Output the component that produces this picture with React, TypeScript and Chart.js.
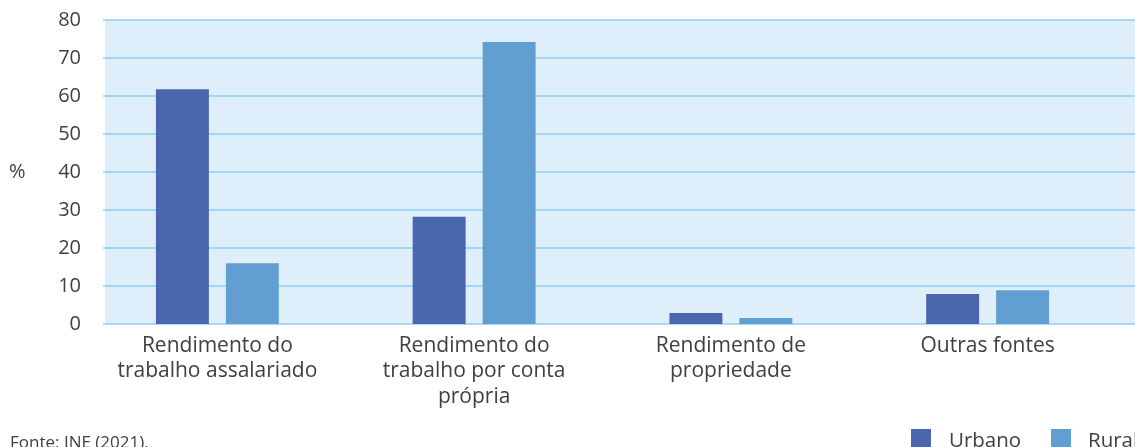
import React, { useEffect, useRef } from "react";
import { Chart, registerables } from "chart.js";

Chart.register(...registerables);

const categories: (string | string[])[] = [
  ["Rendimento do", "trabalho assalariado"],
  ["Rendimento do", "trabalho por conta", "própria"],
  ["Rendimento de", "propriedade"],
  "Outras fontes",
];
const urbanoValues = [61.8, 28.2, 2.9, 7.9];
const ruralValues = [16.0, 74.2, 1.6, 8.9];
const seriesLabels = ["Urbano", "Rural"];
const yTickMin = 0;
const yTickMax = 80;
const yTickStep = 10;
const yAxisLabel = "%";
const sourceNote = "Fonte: INE (2021).";

const COLORS = ["#4966ae", "#619ed2"];
const TEXT = "#404040";
const FONT = "'Open Sans', 'Noto Sans', sans-serif";

export default function App() {
  const ref = useRef<HTMLCanvasElement | null>(null);

  useEffect(() => {
    const canvas = ref.current;
    if (!canvas) return;

    const decor = {
      id: "decor",
      beforeDatasetsDraw(chart: any) {
        const { ctx, chartArea, scales } = chart;
        const y = scales.y;
        const bgLeft = 105;
        const right = chart.width;
        ctx.save();
        ctx.fillStyle = "#deeffb";
        ctx.fillRect(bgLeft, chartArea.top, right - bgLeft, chartArea.bottom - chartArea.top);
        ctx.strokeStyle = "#8dcff3";
        ctx.lineWidth = 1.6;
        y.ticks.forEach((t: any) => {
          const py = y.getPixelForValue(t.value);
          ctx.beginPath();
          ctx.moveTo(103, py);
          ctx.lineTo(right, py);
          ctx.stroke();
        });
        ctx.restore();
      },
      afterDraw(chart: any) {
        const { ctx, scales } = chart;
        const y = scales.y;
        ctx.save();
        ctx.fillStyle = TEXT;
        ctx.font = `20px ${FONT}`;
        ctx.textBaseline = "middle";
        ctx.textAlign = "left";
        ctx.fillText(yAxisLabel, 9, y.getPixelForValue(40));

        ctx.font = `17px ${FONT}`;
        ctx.textBaseline = "alphabetic";
        ctx.fillText(sourceNote, 10, 448);

        // legend
        ctx.font = `20.5px ${FONT}`;
        const items = [
          { x: 911, tx: 949 },
          { x: 1051, tx: 1088 },
        ];
        chart.data.datasets.forEach((ds: any, i: number) => {
          const it = items[i];
          ctx.fillStyle = ds.backgroundColor;
          ctx.fillRect(it.x, 429, 20, 20);
          ctx.fillStyle = TEXT;
          ctx.fillText(ds.label, it.tx, 447);
        });
        ctx.restore();
      },
    };

    const chart = new Chart(canvas, {
      type: "bar",
      data: {
        labels: categories,
        datasets: [
          {
            label: seriesLabels[0],
            data: urbanoValues,
            backgroundColor: COLORS[0],
            categoryPercentage: 0.545,
            barPercentage: 0.757,
          },
          {
            label: seriesLabels[1],
            data: ruralValues,
            backgroundColor: COLORS[1],
            categoryPercentage: 0.545,
            barPercentage: 0.757,
          },
        ],
      },
      options: {
        responsive: false,
        animation: false,
        devicePixelRatio: 1,
        layout: { padding: { top: 20, right: 19, left: 0, bottom: 0 } },
        plugins: {
          legend: { display: false },
          tooltip: { enabled: false },
          title: { display: false },
        },
        scales: {
          x: {
            grid: { display: false, drawTicks: false },
            border: { display: false },
            ticks: {
              color: TEXT,
              font: { family: FONT, size: 21, lineHeight: 1.22 },
              padding: 9,
              maxRotation: 0,
              autoSkip: false,
            },
            afterFit: (s: any) => {
              s.height = 123;
            },
          },
          y: {
            min: yTickMin,
            max: yTickMax,
            grid: { display: false, drawTicks: false },
            border: { display: false },
            ticks: {
              stepSize: yTickStep,
              color: TEXT,
              font: { family: FONT, size: 20 },
              padding: 8,
            },
            afterFit: (s: any) => {
              s.width = 89;
            },
          },
        },
      },
      plugins: [decor],
    });

    return () => chart.destroy();
  }, []);

  return (
    <div style={{ position: "absolute", left: 0, top: 0, width: 1135, height: 447, background: "#fff" }}>
      <canvas ref={ref} width={1135} height={447} style={{ display: "block", width: 1135, height: 447 }} />
    </div>
  );
}
